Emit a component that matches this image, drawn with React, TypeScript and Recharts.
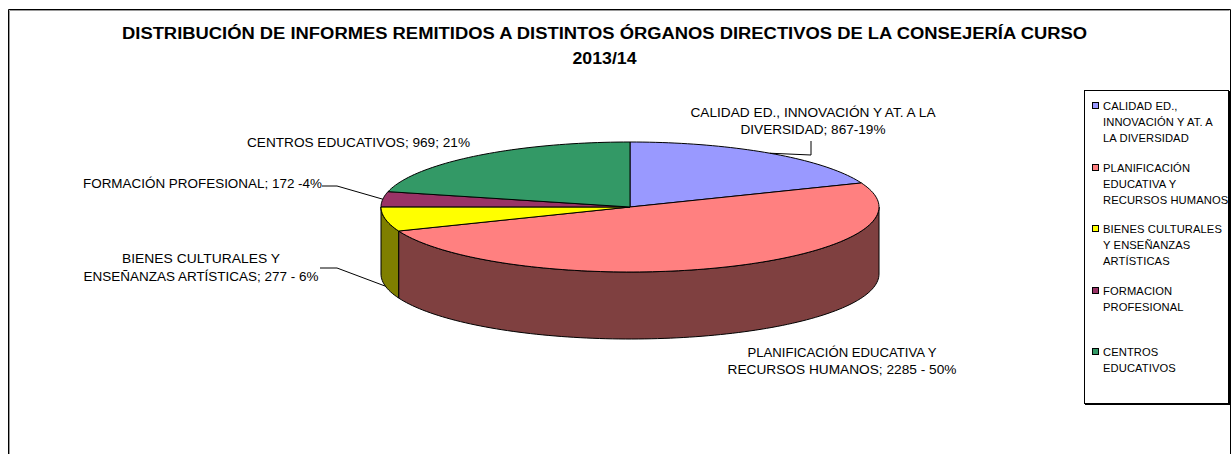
import React from 'react';
import { PieChart, Pie, Cell, Legend } from 'recharts';

// ---------- data ----------
const categories = [
  'CALIDAD ED., INNOVACIÓN Y AT. A LA DIVERSIDAD',
  'PLANIFICACIÓN EDUCATIVA Y RECURSOS HUMANOS',
  'BIENES CULTURALES Y ENSEÑANZAS ARTÍSTICAS',
  'FORMACION PROFESIONAL',
  'CENTROS EDUCATIVOS',
];
const values = [867, 2285, 277, 172, 969];
const legendLines = [
  ['CALIDAD ED.,', 'INNOVACIÓN Y AT. A', 'LA DIVERSIDAD'],
  ['PLANIFICACIÓN', 'EDUCATIVA Y', 'RECURSOS HUMANOS'],
  ['BIENES CULTURALES', 'Y ENSEÑANZAS', 'ARTÍSTICAS'],
  ['FORMACION', 'PROFESIONAL'],
  ['CENTROS', 'EDUCATIVOS'],
];
const labelLines = [
  ['CALIDAD ED., INNOVACIÓN Y AT. A LA', 'DIVERSIDAD; 867-19%'],
  ['PLANIFICACIÓN EDUCATIVA Y', 'RECURSOS HUMANOS; 2285 - 50%'],
  ['BIENES CULTURALES Y', 'ENSEÑANZAS ARTÍSTICAS; 277 - 6%'],
  ['FORMACIÓN PROFESIONAL; 172 -4%'],
  ['CENTROS EDUCATIVOS; 969; 21%'],
];
const titleLines = [
  'DISTRIBUCIÓN DE INFORMES REMITIDOS A DISTINTOS ÓRGANOS DIRECTIVOS DE LA CONSEJERÍA CURSO',
  '2013/14',
];
const colors = ['#9999FF', '#FF8080', '#FFFF00', '#993366', '#339966'];

const data = categories.map((name, i) => ({ name, value: values[i] }));

// ---------- layout / style ----------
const FONT = '"Liberation Sans", Arial, Helvetica, sans-serif';
const W = 1232;
const H = 454;
const TILT = 65 / 249; // vertical squash of the pie
const DEPTH = 67 / 249; // thickness relative to radius
const RAD = Math.PI / 180;

// label placement (hand-placed in the original)
const labelLayout: any[] = [
  { x: 813, y: [117, 134], w: [245, 145], leader: [[811, 141], [811, 155]], dy: 0 },
  { x: 842, y: [357, 374], w: [189, 229], leader: null, dy: 0 },
  { x: 201, y: [263, 281], w: [158, 235], leader: [[320, 268], [337, 268]], dy: 1 },
  { x: 202.5, y: [188], w: [239], leader: [[322, 186], [337, 186]], dy: 0 },
  { x: 358.5, y: [147], w: [223], leader: null, dy: 0 },
];

function darken(hex: string) {
  const n = parseInt(hex.slice(1), 16);
  const r = (n >> 16) & 255;
  const g = (n >> 8) & 255;
  const b = n & 255;
  return `rgb(${r >> 1},${g >> 1},${b >> 1})`;
}

function Slice3D(props: any) {
  const { cx, cy, outerRadius, startAngle, endAngle, fill } = props;
  const rx = outerRadius;
  const ry = outerRadius * TILT;
  const d = outerRadius * DEPTH;
  const P = (a: number, dy = 0) =>
    `${(cx + rx * Math.cos(a * RAD)).toFixed(2)},${(cy - ry * Math.sin(a * RAD) + dy).toFixed(2)}`;
  const arc = (a0: number, a1: number, dy = 0) => {
    const n = Math.max(2, Math.ceil(Math.abs(a1 - a0) / 1.5));
    const pts: string[] = [];
    for (let i = 0; i <= n; i++) pts.push(P(a0 + ((a1 - a0) * i) / n, dy));
    return pts;
  };
  const top = `M${cx},${cy} L${arc(startAngle, endAngle).join(' L')} Z`;
  const hi = Math.min(Math.max(startAngle, endAngle), 0);
  const lo = Math.max(Math.min(startAngle, endAngle), -180);
  let side: string | null = null;
  if (hi > lo) {
    const upper = arc(hi, lo);
    const lower = arc(lo, hi, d);
    side = `M${upper.join(' L')} L${lower.join(' L')} Z`;
  }
  return (
    <g>
      {side && <path d={side} fill={darken(fill)} stroke="#000" strokeWidth={1} strokeLinejoin="round" />}
      <path d={top} fill={fill} stroke="#000" strokeWidth={1} strokeLinejoin="round" />
    </g>
  );
}

function renderLabel(props: any) {
  const { cx, cy, midAngle, outerRadius, index } = props;
  const L = labelLayout[index];
  const lines = labelLines[index];
  const rx = outerRadius;
  const ry = outerRadius * TILT;
  const ax = cx + rx * Math.cos(midAngle * RAD);
  const ay = cy - ry * Math.sin(midAngle * RAD) + L.dy * outerRadius * DEPTH;
  const leaderPts = L.leader ? [...L.leader, [ax, ay]] : null;
  return (
    <g key={`lab-${index}`}>
      {leaderPts && (
        <polyline
          points={leaderPts.map((p: number[]) => `${p[0]},${p[1]}`).join(' ')}
          fill="none"
          stroke="#000"
          strokeWidth={1}
        />
      )}
      {lines.map((t, j) => (
        <text
          key={j}
          x={L.x}
          y={L.y[j]}
          textAnchor="middle"
          fontFamily={FONT}
          fontSize={13.5}
          fill="#000"
          textLength={L.w[j]}
          lengthAdjust="spacingAndGlyphs"
        >
          {t}
        </text>
      ))}
    </g>
  );
}

function renderLegend(props: any) {
  const payload = props.payload || [];
  // keep the series order of the data, not the legend's sorted order
  const items = categories.map((name, i) => {
    const e = payload.find((p: any) => p.value === name);
    return { name, color: e ? e.color : colors[i], lines: legendLines[i] };
  });
  return (
    <div
      style={{
        position: 'relative',
        width: 145,
        height: 314,
        boxSizing: 'border-box',
        border: '1px solid #000',
        boxShadow: '1px 1px 0 #000',
        background: '#fff',
        fontFamily: FONT,
        fontSize: 11.2,
        color: '#000',
      }}
    >
      {items.map((entry, i) => (
        <div key={i} style={{ position: 'absolute', left: 0, top: 7 + i * 61.5, width: 143 }}>
          <div
            style={{
              position: 'absolute',
              left: 7,
              top: 4,
              width: 7,
              height: 7,
              boxSizing: 'border-box',
              background: entry.color,
              border: '1px solid #000',
            }}
          />
          {entry.lines.map((t, j) => (
            <div
              key={j}
              style={{
                position: 'absolute',
                left: 18,
                top: j * 16,
                height: 16,
                lineHeight: '16px',
                whiteSpace: 'nowrap',
                letterSpacing: 0.1,
              }}
            >
              {t}
            </div>
          ))}
        </div>
      ))}
    </div>
  );
}

export default function App() {
  return (
    <div
      style={{
        position: 'absolute',
        left: 0,
        top: 0,
        width: W,
        height: H,
        overflow: 'hidden',
        background: '#fff',
      }}
    >
      <svg width={W} height={H} style={{ position: 'absolute', left: 0, top: 0 }}>
        <path d="M8.5,470 L8.5,9.5 L1230.5,9.5 L1230.5,470" fill="none" stroke="#000" strokeWidth={1} />
        <path d="M9.5,470 L9.5,10.5 L1229.5,10.5" fill="none" stroke="#9a9a9a" strokeWidth={1} />
        <text
          x={604.5}
          y={38.5}
          textAnchor="middle"
          fontFamily={FONT}
          fontWeight="bold"
          fontSize={16}
          textLength={965}
          lengthAdjust="spacingAndGlyphs"
        >
          {titleLines[0]}
        </text>
        <text
          x={604.5}
          y={63.5}
          textAnchor="middle"
          fontFamily={FONT}
          fontWeight="bold"
          fontSize={16}
          textLength={64}
          lengthAdjust="spacingAndGlyphs"
        >
          {titleLines[1]}
        </text>
      </svg>
      <div style={{ position: 'absolute', left: 0, top: 0 }}>
        <PieChart width={W} height={H} margin={{ top: 0, right: 0, bottom: 0, left: 0 }}>
          <Pie
            data={data}
            dataKey="value"
            nameKey="name"
            cx={630}
            cy={207}
            outerRadius={249}
            startAngle={90}
            endAngle={-270}
            isAnimationActive={false}
            shape={Slice3D}
            label={renderLabel}
            labelLine={false}
            stroke="#000"
          >
            {data.map((_, i) => (
              <Cell key={i} fill={colors[i]} />
            ))}
          </Pie>
          <Legend
            content={renderLegend}
            wrapperStyle={{ position: 'absolute', left: 1084, top: 90, width: 146, height: 316 }}
          />
        </PieChart>
      </div>
    </div>
  );
}
